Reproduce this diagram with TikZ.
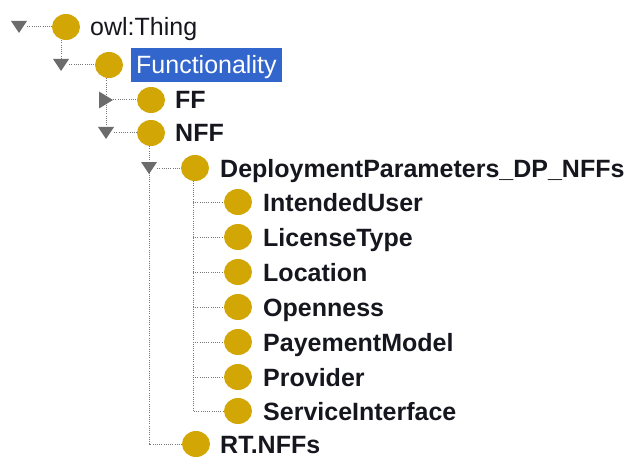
\documentclass[tikz,border=0pt]{standalone}
\usepackage{fontspec}
\setmainfont{Liberation Sans}
\usetikzlibrary{shapes.geometric,backgrounds}

\definecolor{classgold}{RGB}{210,166,4}
\definecolor{handlegray}{RGB}{108,108,108}
\definecolor{linegray}{RGB}{120,120,120}
\definecolor{selblue}{RGB}{51,102,204}
\definecolor{labelink}{RGB}{22,22,30}

\tikzset{
  cls/.style={ellipse, fill=classgold, minimum width=28pt, minimum height=26pt, inner sep=0pt},
  expdown/.style={rectangle, minimum width=16pt, minimum height=12pt, inner sep=0pt,
    path picture={\fill[handlegray] (path picture bounding box.north west) --
      (path picture bounding box.north east) -- (path picture bounding box.south) -- cycle;}},
  expright/.style={rectangle, minimum width=14pt, minimum height=17pt, inner sep=0pt,
    path picture={\fill[handlegray] (path picture bounding box.north west) --
      (path picture bounding box.east) -- (path picture bounding box.south west) -- cycle;}},
  lbl/.style={anchor=base west, inner sep=0pt, text=labelink, font=\fontsize{25}{30}\selectfont},
  blbl/.style={lbl, font=\fontsize{25}{30}\selectfont\bfseries},
  sel/.style={lbl, text=white, fill=selblue, inner xsep=5pt, inner ysep=2pt,
    text height=24pt, text depth=6pt},
  tree/.style={draw=linegray, line width=1pt, dash pattern=on 1pt off 1.2pt},
}

\begin{document}
\begin{tikzpicture}[x=1pt,y=-1pt]
\useasboundingbox (0,0) rectangle (636,457);

% root
\node[expdown] (tOwl) at (19,27) {};
\node[cls] (cOwl) at (66,27) {};
\node[lbl] (lOwl) at (90,36) {owl:Thing};

% selected class
\node[expdown] (tFunc) at (61,65) {};
\node[cls] (cFunc) at (109,65) {};
\node[sel] (lFunc) at (131,74) {Functionality};

% FF / NFF
\node[expright] (tFF) at (106,100) {};
\node[cls] (cFF) at (151,100) {};
\node[blbl] (lFF) at (175,109) {FF};

\node[expdown] (tNFF) at (106,133) {};
\node[cls] (cNFF) at (151,133) {};
\node[blbl] (lNFF) at (175,142) {NFF};

% deployment parameters
\node[expdown] (tDP) at (149,168) {};
\node[cls] (cDP) at (195,168) {};
\node[blbl] (lDP) at (220,177) {DeploymentParameters\_DP\_NFFs};

% leaves under deployment parameters
\foreach \id/\yy/\txt in {IU/202/IntendedUser, LT/237/LicenseType, Loc/272/Location,
    Open/307/Openness, PM/342/PayementModel, Prov/377/Provider, SI/411/ServiceInterface}{
  \node[cls] (c\id) at (238,\yy) {};
  \node[blbl] (l\id) at (263,\yy+9) {\txt};
}

% RT.NFFs
\node[cls] (cRT) at (196,444) {};
\node[blbl] (lRT) at (220,453) {RT.NFFs};

% dotted tree connectors
\begin{scope}[on background layer]
  \draw[tree] (tOwl) -- (cOwl);
  \draw[tree] (cOwl.south -| tFunc) -- (tFunc);
  \draw[tree] (tFunc) -- (cFunc);
  \draw[tree] (cFunc.south -| tNFF) -- (tNFF);
  \draw[tree] (tFF) -- (cFF);
  \draw[tree] (tNFF) -- (cNFF);
  \draw[tree] (cNFF.south -| tDP) |- (cRT);
  \draw[tree] (tDP) -- (cDP);
  \coordinate (jDP) at (193,181);
  \draw[tree] (jDP) |- (cSI);
  \foreach \id in {IU,LT,Loc,Open,PM,Prov}{
    \draw[tree] (jDP |- c\id) -- (c\id);
  }
\end{scope}
\end{tikzpicture}
\end{document}
